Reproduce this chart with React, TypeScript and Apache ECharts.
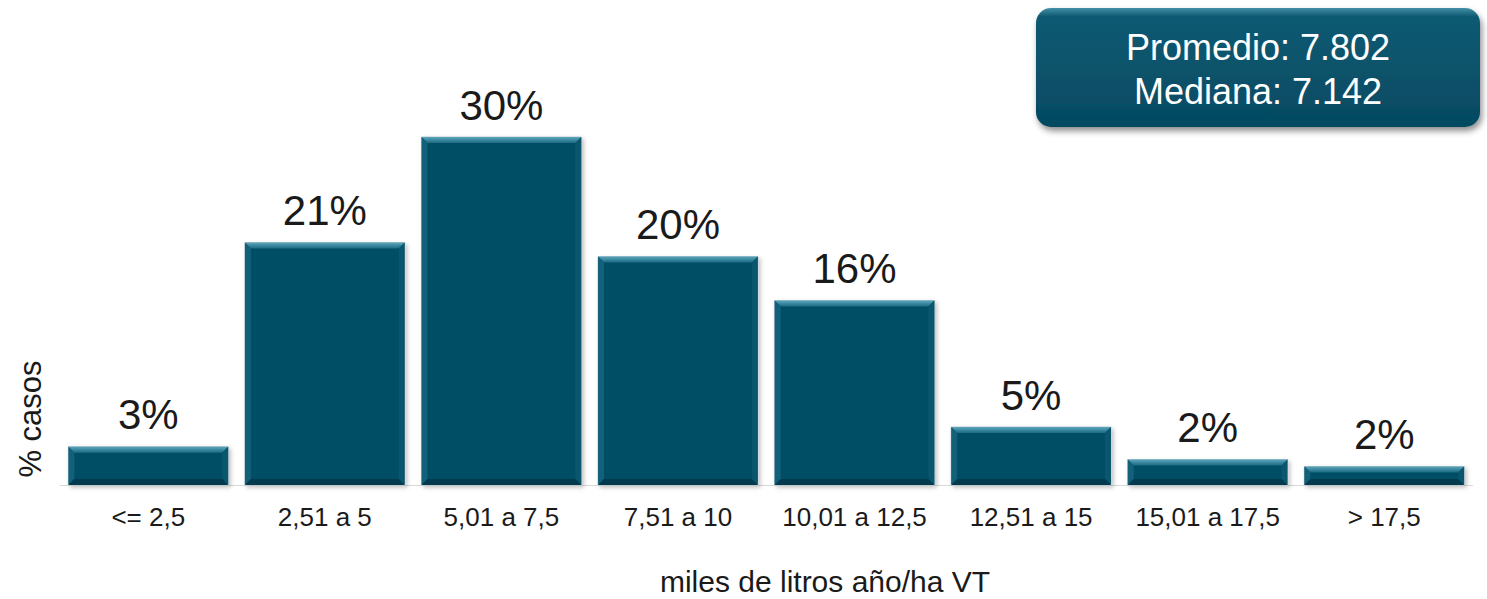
import React, { useEffect, useRef } from "react";
import * as echarts from "echarts";

const categories = ["<= 2,5", "2,51 a 5", "5,01 a 7,5", "7,51 a 10", "10,01 a 12,5", "12,51 a 15", "15,01 a 17,5", "> 17,5"];
const shares = [3.3, 20.9, 30.0, 19.7, 15.9, 5.0, 2.2, 1.6];
const shareLabels = ["3%", "21%", "30%", "20%", "16%", "5%", "2%", "2%"];
const xAxisTitle = "miles de litros año/ha VT";
const yAxisTitle = "% casos";
const statLines = ["Promedio: 7.802", "Mediana: 7.142"];

const FONT = "Liberation Sans, Arial, Helvetica, sans-serif";

export default function App() {
  const ref = useRef<HTMLDivElement>(null);
  useEffect(() => {
    document.body.style.margin = "0";
    const chart = echarts.init(ref.current!, null, { renderer: "svg" });
    const option: any = {
      animation: false,
      backgroundColor: "#ffffff",
      grid: { left: 60, right: 14.5, top: 79, bottom: 114, outerBoundsMode: "none", containLabel: false },
      xAxis: {
        type: "category",
        data: categories,
        axisLine: { show: true, lineStyle: { color: "#d9d9d9", width: 1 } },
        axisTick: { show: false },
        axisLabel: { color: "#1a1a1a", fontSize: 26, fontFamily: FONT, margin: 19, interval: 0 },
      },
      yAxis: { type: "value", min: 0, max: 35, show: false },
      series: [
        {
          type: "custom",
          data: shares.map((v, i) => [i, v]),
          renderItem: (params: any, api: any) => {
            const idx = api.value(0);
            const v = api.value(1);
            const base = api.coord([idx, 0]);
            const top = api.coord([idx, v]);
            const bw = api.size([1, 0])[0] * 0.905;
            const x0 = base[0] - bw / 2;
            const x1 = base[0] + bw / 2;
            const y0 = top[1];
            const y1 = base[1];
            const b = Math.min(6, (y1 - y0) / 2);
            return {
              type: "group",
              children: [
                {
                  type: "rect",
                  shape: { x: x0, y: y0, width: bw, height: y1 - y0 },
                  style: {
                    fill: "#064d66",
                    stroke: "#b9c9cf",
                    lineWidth: 1,
                    shadowBlur: 4,
                    shadowOffsetX: 2,
                    shadowOffsetY: 2,
                    shadowColor: "rgba(0,0,0,0.25)",
                  },
                },
                {
                  type: "polygon",
                  shape: { points: [[x0, y0], [x1, y0], [x1 - b, y0 + b], [x0 + b, y0 + b]] },
                  style: {
                    fill: new echarts.graphic.LinearGradient(0, 0, 0, 1, [
                      { offset: 0, color: "#5aa6bd" },
                      { offset: 1, color: "#1c6a83" },
                    ]),
                  },
                },
                {
                  type: "polygon",
                  shape: { points: [[x0, y0], [x0 + b, y0 + b], [x0 + b, y1 - b], [x0, y1]] },
                  style: { fill: "#12607a" },
                },
                {
                  type: "polygon",
                  shape: { points: [[x1, y0], [x1, y1], [x1 - b, y1 - b], [x1 - b, y0 + b]] },
                  style: { fill: "#0a566e" },
                },
                {
                  type: "polygon",
                  shape: { points: [[x0, y1], [x1, y1], [x1 - b, y1 - b], [x0 + b, y1 - b]] },
                  style: { fill: "#043a4d" },
                },
                {
                  type: "text",
                  x: base[0],
                  y: y0 - 11,
                  style: {
                    text: shareLabels[idx],
                    fill: "#1a1a1a",
                    fontSize: 42,
                    fontFamily: FONT,
                    align: "center",
                    verticalAlign: "bottom",
                  },
                },
              ],
            };
          },
        },
      ],
      graphic: [
        {
          type: "text",
          x: 30,
          y: 419,
          rotation: Math.PI / 2,
          style: {
            text: yAxisTitle,
            fill: "#1a1a1a",
            fontSize: 31,
            fontFamily: FONT,
            align: "center",
            verticalAlign: "middle",
          },
        },
        {
          type: "text",
          x: 825,
          y: 581,
          style: {
            text: xAxisTitle,
            fill: "#1a1a1a",
            fontSize: 30,
            fontFamily: FONT,
            align: "center",
            verticalAlign: "middle",
          },
        },
        {
          type: "group",
          left: 1036,
          top: 8,
          children: [
            {
              type: "rect",
              shape: { x: 0, y: 0, width: 444, height: 119, r: 15 },
              style: {
                fill: new echarts.graphic.LinearGradient(0, 0, 0, 1, [
                  { offset: 0, color: "#4590a8" },
                  { offset: 0.07, color: "#0e5a73" },
                  { offset: 1, color: "#054a61" },
                ]),
                shadowBlur: 6,
                shadowOffsetX: 2,
                shadowOffsetY: 4,
                shadowColor: "rgba(0,0,0,0.45)",
              },
            },
            {
              type: "text",
              x: 222,
              y: 39,
              style: {
                text: statLines[0],
                fill: "#ffffff",
                fontSize: 36,
                fontFamily: FONT,
                align: "center",
                verticalAlign: "middle",
              },
            },
            {
              type: "text",
              x: 222,
              y: 83,
              style: {
                text: statLines[1],
                fill: "#ffffff",
                fontSize: 36,
                fontFamily: FONT,
                align: "center",
                verticalAlign: "middle",
              },
            },
          ],
        },
      ],
    };
    chart.setOption(option);
    return () => chart.dispose();
  }, []);
  return <div ref={ref} style={{ width: 1487, height: 599 }} />;
}
